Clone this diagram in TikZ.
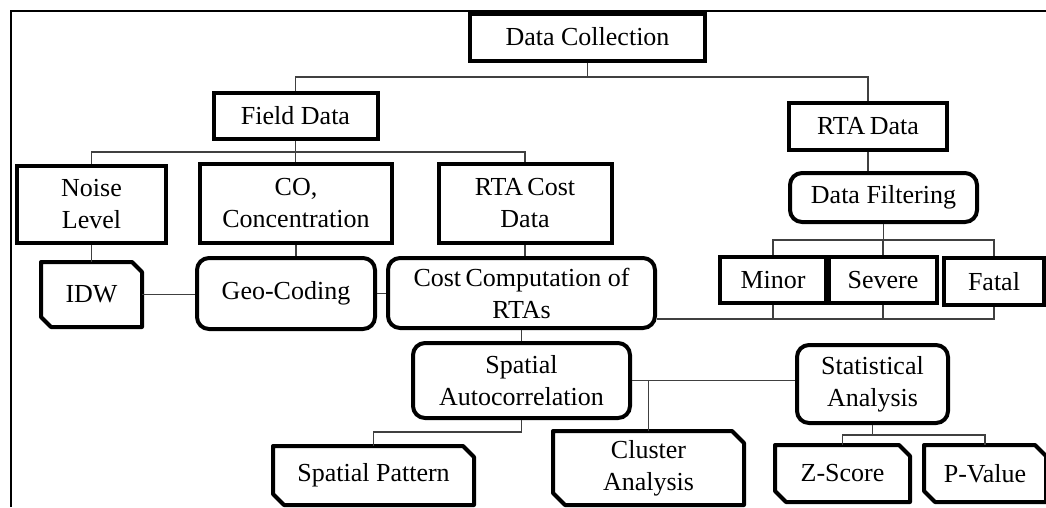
\documentclass[tikz,border=0pt]{standalone}
\usepackage{fontspec}
\setmainfont{Liberation Serif}
\usetikzlibrary{calc}
\begin{document}
\begin{tikzpicture}[x=1pt,y=-1pt,
  base/.style={inner sep=0pt,align=center,font=\fontsize{26}{32}\selectfont,line width=4pt},
  rect/.style={base,draw},
  rbox/.style={base,draw,rounded corners=12pt},
  snipbox/.style={base},
  conn/.style={line width=1.4pt,black!75}]
\useasboundingbox (0,0) rectangle (1046,507);
\draw[line width=2pt] (11,507) -- (11,10.5) -- (1046,10.5);
% bus levels
\coordinate (b1) at (0,77);
\coordinate (b2) at (0,152);
\coordinate (b3) at (0,240);
\coordinate (b4) at (0,319);
\coordinate (b5) at (0,432);
\coordinate (b6) at (0,435);
% nodes
\node[rect,minimum width=235pt,minimum height=47pt,fill=white] (dc) at (587.5,37) {Data Collection};
\node[rect,minimum width=164pt,minimum height=46pt] (fd) at (295.5,116) {Field Data};
\node[rect,minimum width=158pt,minimum height=47pt] (rd) at (868,126.5) {RTA\,Data};
\node[rect,minimum width=149pt,minimum height=77pt] (nl) at (91.5,204.5) {Noise\\Level};
\node[rect,minimum width=192pt,minimum height=79pt] (co) at (296,203.5) {CO,\\Concentration};
\node[rect,minimum width=173pt,minimum height=79pt] (rc) at (525,203.5) {RTA\,Cost\\Data};
\node[snipbox,minimum width=97pt,minimum height=61pt] (idw) at (91.5,294.5) {IDW};
\node[rbox,minimum width=178pt,minimum height=71pt] (gc) at (286,293.5) {Geo-Coding};
\node[rbox,minimum width=267pt,minimum height=70pt] (cc) at (521.5,293) {Cost\,Computation of\\RTAs};
\node[rbox,minimum width=187pt,minimum height=49pt] (df) at (883.5,197.5) {Data Filtering};
\node[rect,minimum width=106pt,minimum height=46pt] (mi) at (773,280) {Minor};
\node[rect,minimum width=108pt,minimum height=46pt] (se) at (883,280) {Severe};
\node[rect,minimum width=100pt,minimum height=47pt] (fa) at (994,281.5) {Fatal};
\node[rbox,minimum width=217pt,minimum height=75pt] (sa) at (521.5,380.5) {Spatial\\Autocorrelation};
\node[rbox,minimum width=151pt,minimum height=78pt] (st) at (872.5,384) {Statistical\\Analysis};
\node[snipbox,minimum width=197pt,minimum height=55pt] (sp) at (373.5,475.5) {Spatial Pattern};
\node[snipbox,minimum width=187pt,minimum height=70pt] (ca) at (648.5,468) {Cluster\\Analysis};
\node[snipbox,minimum width=131pt,minimum height=53pt] (zs) at (842.5,473.5) {Z-Score};
\node[snipbox,minimum width=118pt,minimum height=53pt] (pv) at (985,473.5) {P-Value};
% snipped-corner outlines
\foreach \n/\c in {idw/10,sp/11,ca/12,zs/11,pv/11}{
  \draw[line width=4pt,line join=round] (\n.north west) -- ([xshift=-\c pt]\n.north east) -- ([yshift=-\c pt]\n.north east)
    -- (\n.south east) -- ([xshift=\c pt]\n.south west) -- ([yshift=\c pt]\n.south west) -- cycle;
}
% connectors
\draw[conn] (dc.south) -- (dc.south |- b1);
\draw[conn] (fd.north) -- (fd.north |- b1) -- (rd.north |- b1) -- (rd.north);
\draw[conn] (fd.south) -- (fd.south |- co.north);
\draw[conn] (nl.north) -- (nl.north |- b2) -- (rc.north |- b2) -- (rc.north);
\draw[conn] (nl.south) -- (idw.north);
\draw[conn] (co.south) -- (co.south |- gc.north);
\draw[conn] (rc.south) -- (rc.south |- cc.north);
\draw[conn] (idw.east) -- (idw.east -| gc.west);
\draw[conn] (gc.east) -- (gc.east -| cc.west);
\draw[conn] (rd.south) -- (rd.south |- df.north);
\draw[conn] (df.south) -- (df.south |- b3);
\draw[conn] (mi.north) -- (mi.north |- b3) -- (fa.north |- b3) -- (fa.north);
\draw[conn] (se.north) -- (se.north |- b3);
\draw[conn] (cc.east |- b4) -- (fa.south |- b4) -- (fa.south);
\draw[conn] (mi.south) -- (mi.south |- b4);
\draw[conn] (se.south) -- (se.south |- b4);
\draw[conn] (cc.south) -- (sa.north);
\draw[conn] (sa.east) -- (sa.east -| st.west);
\draw[conn] (ca.north |- sa.east) -- (ca.north);
\draw[conn] (sa.south) -- (sa.south |- b5) -- (sp.north |- b5) -- (sp.north);
\draw[conn] (st.south) -- (st.south |- b6);
\draw[conn] (zs.north) -- (zs.north |- b6) -- (pv.north |- b6) -- (pv.north);
\end{tikzpicture}
\end{document}
